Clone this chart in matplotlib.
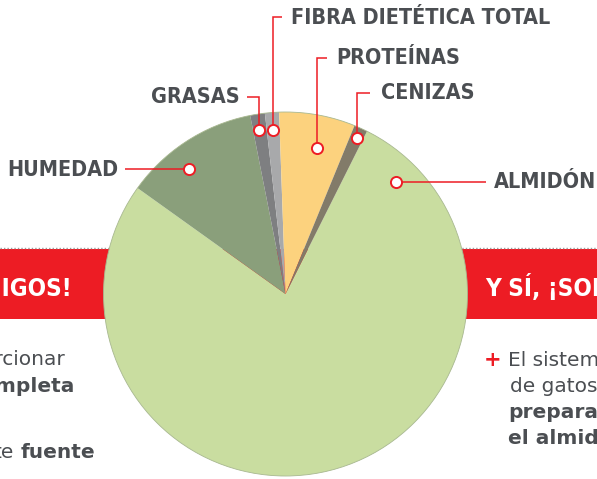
import matplotlib
matplotlib.use('Agg')
import matplotlib.pyplot as plt
import numpy as np
from matplotlib.patches import Rectangle

# ---- data ----
categories = ['ALMIDÓN', 'HUMEDAD', 'GRASAS', 'FIBRA DIETÉTICA TOTAL', 'PROTEÍNAS', 'CENIZAS']
values = [77.5, 12.0, 1.3, 1.25, 6.75, 1.2]
colors = ['#c9dda0', '#8a9f7b', '#7e7f81', '#a8a9ab', '#fcd27e', '#827b69']

left_title = '¡SOMOS AMIGOS!'
right_title = 'Y SÍ, ¡SOMOS AMIGOS!'

W, H = 597, 479
RED = '#ed1c24'
TXT = '#4b4e52'
FONT = 'DejaVu Sans'

fig = plt.figure(figsize=(W / 100, H / 100), dpi=100)
ax = fig.add_axes([0, 0, 1, 1])

def Y(py):
    return H - py

# background band + dotted line
ax.add_patch(Rectangle((0, Y(319)), W, 70, facecolor=RED, edgecolor='none', zorder=1))
ax.plot([0, W], [Y(247.5), Y(247.5)], color='#9a9a9a', lw=1.0, ls=(0, (1, 1.5)), zorder=1)

# pie
cx, cy, R = 285.5, Y(294), 182
wedges, _ = ax.pie(values, colors=colors, startangle=63.4, counterclock=False,
                   center=(cx, cy), radius=R, frame=True,
                   wedgeprops=dict(linewidth=0.6, edgecolor='none'))
for w in wedges:
    w.set_zorder(3)
ax.add_patch(plt.Circle((cx, cy), R, facecolor='none', edgecolor='#a8b890', lw=0.6, zorder=3))

ax.set_xlim(0, W)
ax.set_ylim(0, H)
ax.set_aspect('auto')
ax.axis('off')

# label layout: marker (angle deg, radius fraction), text anchor, route
layout = {
    'ALMIDÓN': dict(ang=45.3, rf=0.863, tx=494, ty=182, ha='left', route='h', lx=486),
    'HUMEDAD': dict(ang=127.6, rf=0.867, tx=118, ty=170, ha='right', route='h', lx=125),
    'GRASAS': dict(ang=99.1, rf=0.913, tx=240, ty=96.5, ha='right', route='v', lx=246.7, ly=96.7),
    'FIBRA DIETÉTICA TOTAL': dict(ang=94.5, rf=0.904, tx=291, ty=18, ha='left', route='v', lx=281.7, ly=17.3),
    'PROTEÍNAS': dict(ang=77.7, rf=0.819, tx=336.5, ty=57.5, ha='left', route='v', lx=326.7, ly=58.3),
    'CENIZAS': dict(ang=65.2, rf=0.942, tx=380.5, ty=92.5, ha='left', route='v', lx=370, ly=93.3),
}

for name in categories:
    L = layout[name]
    a = np.deg2rad(L['ang'])
    mx = cx + R * L['rf'] * np.cos(a)
    my = cy + R * L['rf'] * np.sin(a)
    if L['route'] == 'h':
        ax.plot([mx, L['lx']], [my, my], color=RED, lw=1.1, zorder=4, solid_capstyle='butt')
    else:
        ax.plot([mx, mx, L['lx']], [my, Y(L['ly']), Y(L['ly'])], color=RED, lw=1.1, zorder=4,
                solid_capstyle='butt', solid_joinstyle='miter')
    ax.plot([mx], [my], marker='o', ms=8, mfc='white', mec=RED, mew=1.4, zorder=5)
    ax.text(L['tx'], Y(L['ty']), name, ha=L['ha'], va='center', fontsize=15.5,
            fontweight='bold', fontfamily=FONT, fontstretch='condensed', color=TXT, zorder=6)

# band titles
ax.text(72, Y(289), left_title, ha='right', va='center', fontsize=17.4, fontweight='bold',
        fontfamily=FONT, fontstretch='condensed', color='white', zorder=2)
ax.text(485, Y(288), right_title, ha='left', va='center', fontsize=17.4, fontweight='bold',
        fontfamily=FONT, fontstretch='condensed', color='white', zorder=2)

# body text left (cut off by page edge)
bs = 14.5
ax.text(65, Y(365), 'proporcionar', ha='right', va='baseline', fontsize=bs, color=TXT,
        fontfamily=FONT, zorder=2)
ax.text(75, Y(392), 'completa', ha='right', va='baseline', fontsize=bs, color=TXT,
        fontweight='bold', fontfamily=FONT, zorder=2)
t_f = ax.text(95, Y(458), 'fuente', ha='right', va='baseline', fontsize=bs, color=TXT,
              fontweight='bold', fontfamily=FONT, zorder=2)
fig.canvas.draw()
bb = t_f.get_window_extent(renderer=fig.canvas.get_renderer())
x_te = ax.transData.inverted().transform((bb.x0, bb.y0))[0] - 6
ax.text(x_te, Y(458), 'te', ha='right', va='baseline', fontsize=bs, color=TXT,
        fontfamily=FONT, zorder=2)

# body text right
ax.text(493, Y(360), '+', ha='center', va='center', fontsize=15, fontweight='bold',
        color=RED, fontfamily=FONT, zorder=2)
ax.text(508, Y(366.5), 'El sistema', ha='left', va='baseline', fontsize=bs, color=TXT,
        fontfamily=FONT, zorder=2)
ax.text(510, Y(392.5), 'de gatos', ha='left', va='baseline', fontsize=bs, color=TXT,
        fontfamily=FONT, zorder=2)
ax.text(508, Y(418.5), 'preparado', ha='left', va='baseline', fontsize=bs, color=TXT,
        fontweight='bold', fontfamily=FONT, zorder=2)
ax.text(508, Y(444.5), 'el almidón', ha='left', va='baseline', fontsize=bs, color=TXT,
        fontweight='bold', fontfamily=FONT, zorder=2)

fig.savefig('out.png', dpi=100)
